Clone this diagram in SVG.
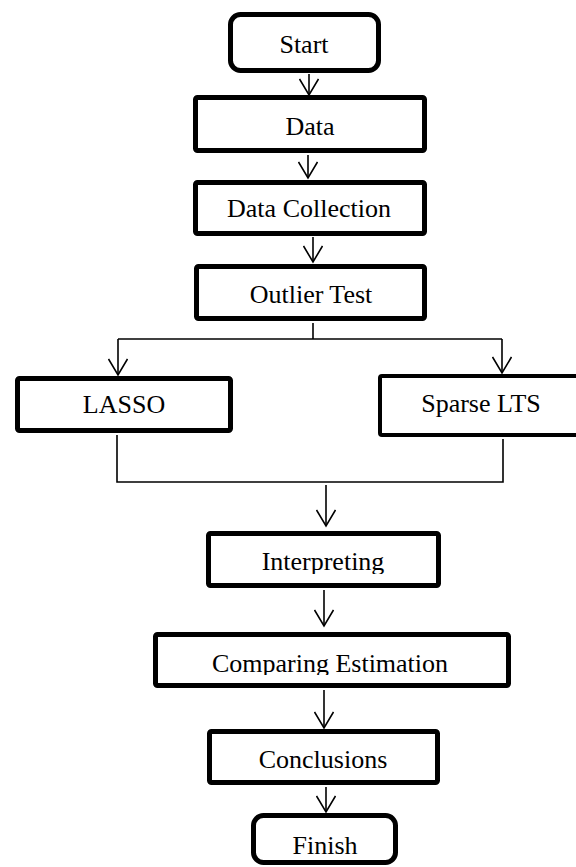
<svg xmlns="http://www.w3.org/2000/svg" width="576" height="867" viewBox="0 0 576 867">
<style>
.box{fill:#fff;stroke:#000;stroke-width:5}
.thin{stroke-width:4}
.lbl{font-family:"Liberation Serif","Times New Roman",serif;font-size:26px;fill:#000;text-anchor:middle}
.con{fill:none;stroke:#000;stroke-width:1.6}
</style>
<defs>
<marker id="ah" markerUnits="userSpaceOnUse" viewBox="0 0 20 20" markerWidth="20" markerHeight="20" refX="17" refY="10" orient="auto">
<path d="M1,0.5 L17,10 L1,19.5" fill="none" stroke="#000" stroke-width="1.6"/>
</marker>
<clipPath id="clipI"><rect x="0" y="500" width="576" height="74"/></clipPath>
<clipPath id="clipC"><rect x="0" y="600" width="576" height="75"/></clipPath>
</defs>
<rect width="576" height="867" fill="#fff"/>
<g id="connectors">
<path class="con" d="M309,74 V95" marker-end="url(#ah)"/>
<path class="con" d="M308,155 V178" marker-end="url(#ah)"/>
<path class="con" d="M313,237 V262" marker-end="url(#ah)"/>
<path class="con" d="M313,323 V339"/>
<path class="con" d="M118,339 H502"/>
<path class="con" d="M118,339 V375" marker-end="url(#ah)"/>
<path class="con" d="M502,339 V373" marker-end="url(#ah)"/>
<path class="con" d="M117,435 V482 H503 V439"/>
<path class="con" d="M326,485 V526" marker-end="url(#ah)"/>
<path class="con" d="M324,590 V626" marker-end="url(#ah)"/>
<path class="con" d="M324,690 V728" marker-end="url(#ah)"/>
<path class="con" d="M326,787 V812" marker-end="url(#ah)"/>
</g>
<g id="start">
<rect class="box" x="230.5" y="14.5" width="148" height="56" rx="10"/>
<text class="lbl" x="304" y="53">Start</text>
</g>
<g id="data">
<rect class="box" x="195.5" y="97.5" width="229" height="53" rx="2"/>
<text class="lbl" x="310" y="135">Data</text>
</g>
<g id="data-collection">
<rect class="box" x="195.5" y="182.5" width="229" height="51" rx="2"/>
<text class="lbl" x="309" y="217">Data Collection</text>
</g>
<g id="outlier-test">
<rect class="box" x="196.5" y="266.5" width="228" height="52" rx="2"/>
<text class="lbl" x="311" y="303">Outlier Test</text>
</g>
<g id="lasso">
<rect class="box" x="17.5" y="378.5" width="213" height="52" rx="2"/>
<text class="lbl" x="124" y="413">LASSO</text>
</g>
<g id="sparse-lts">
<rect class="box thin" x="380" y="376" width="210" height="59" rx="2"/>
<text class="lbl" x="481" y="412">Sparse LTS</text>
</g>
<g id="interpreting">
<rect class="box" x="208.5" y="533.5" width="230" height="52" rx="2"/>
<text class="lbl" x="323" y="570" clip-path="url(#clipI)">Interpreting</text>
</g>
<g id="comparing-estimation">
<rect class="box" x="155.5" y="634.5" width="353" height="51" rx="2"/>
<text class="lbl" x="330" y="672" clip-path="url(#clipC)">Comparing Estimation</text>
</g>
<g id="conclusions">
<rect class="box" x="209.5" y="731.5" width="228" height="51" rx="2"/>
<text class="lbl" x="323" y="768">Conclusions</text>
</g>
<g id="finish">
<rect class="box" x="253.5" y="815.5" width="142" height="47" rx="10"/>
<text class="lbl" x="325" y="854">Finish</text>
</g>
</svg>
